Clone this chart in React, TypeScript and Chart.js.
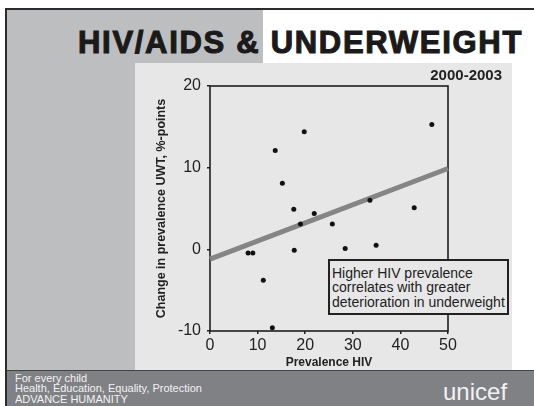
import React, { useEffect, useRef } from "react";
import { Chart, registerables } from "chart.js";

Chart.register(...registerables);

// ---- data ----
const hivPrevalence = [8.0, 9.0, 11.2, 13.1, 13.7, 15.2, 17.6, 17.7, 19.0, 19.8, 21.9, 25.7, 28.4, 33.6, 34.9, 42.9, 46.6];
const uwtChange = [-0.45, -0.45, -3.8, -9.6, 12.1, 8.1, 4.9, -0.1, 3.1, 14.4, 4.4, 3.1, 0.1, 6.0, 0.5, 5.1, 15.3];
const trendX = [0, 50];
const trendY = [-1.2, 9.9];
const xTicks = [0, 10, 20, 30, 40, 50];
const yTicks = [-10, 0, 10, 20];

const titleText = "HIV/AIDS & UNDERWEIGHT";
const periodText = "2000-2003";
const xTitle = "Prevalence HIV";
const yTitle = "Change in prevalence UWT, %-points";
const noteLines = ["Higher HIV prevalence", "correlates with greater", "deterioration in underweight"];
const footerLines = ["For every child", "Health, Education, Equality, Protection", "ADVANCE HUMANITY"];
const brand = "unicef";

const FONT = "'Liberation Sans', Arial, Helvetica, sans-serif";

const boxPlugin = {
  id: "frameBox",
  beforeDatasetsDraw(chart: any) {
    const { ctx, chartArea } = chart;
    ctx.save();
    ctx.strokeStyle = "#1e1e1e";
    ctx.lineWidth = 1.6;
    ctx.strokeRect(chartArea.left, chartArea.top, chartArea.right - chartArea.left, chartArea.bottom - chartArea.top);
    ctx.restore();
  },
};

function ScatterChart() {
  const ref = useRef<HTMLCanvasElement>(null);
  useEffect(() => {
    if (!ref.current) return;
    const chart = new Chart(ref.current, {
      type: "scatter",
      data: {
        datasets: [
          {
            type: "scatter",
            data: hivPrevalence.map((x, i) => ({ x, y: uwtChange[i] })),
            backgroundColor: "#111",
            borderColor: "#111",
            pointRadius: 2.5,
            pointBorderWidth: 0,
          },
          {
            type: "line",
            data: trendX.map((x, i) => ({ x, y: trendY[i] })),
            borderColor: "#858585",
            borderWidth: 5,
            pointRadius: 0,
            fill: false,
            clip: 4,
          } as any,
        ],
      },
      options: {
        responsive: false,
        animation: false,
        events: [],
        layout: { padding: { left: 0, top: 23, right: 64, bottom: 0 } },
        plugins: { legend: { display: false }, tooltip: { enabled: false } },
        scales: {
          x: {
            type: "linear",
            min: 0,
            max: 50,
            afterFit: (s: any) => { s.height = 39; },
            afterBuildTicks: (s: any) => { s.ticks = xTicks.map((v) => ({ value: v })); },
            ticks: { color: "#222", font: { family: FONT, size: 16 }, padding: 2 },
            grid: { drawOnChartArea: false, drawTicks: true, tickLength: 3, tickColor: "#222", lineWidth: 1.5 },
            border: { display: false },
            title: { display: true, text: xTitle, color: "#222", font: { family: FONT, size: 12, weight: "bold" }, padding: { top: 0, bottom: 0 } },
          },
          y: {
            type: "linear",
            min: -10,
            max: 20,
            afterFit: (s: any) => { s.width = 75; },
            afterBuildTicks: (s: any) => { s.ticks = yTicks.map((v) => ({ value: v })); },
            ticks: { color: "#222", font: { family: FONT, size: 16 }, padding: 6 },
            grid: { drawOnChartArea: false, drawTicks: true, tickLength: 3, tickColor: "#222", lineWidth: 1.5 },
            border: { display: false },
            title: { display: true, text: yTitle, color: "#222", font: { family: FONT, size: 12.5, weight: "bold" }, padding: { top: 19.5, bottom: 0 } },
          },
        },
      } as any,
      plugins: [boxPlugin],
    });
    return () => chart.destroy();
  }, []);
  return (
    <canvas
      ref={ref}
      width={377}
      height={307}
      style={{ position: "absolute", left: 135, top: 63, width: 377, height: 307 }}
    />
  );
}

export default function App() {
  const abs = (s: React.CSSProperties): React.CSSProperties => ({ position: "absolute", ...s });
  return (
    <div style={{ position: "absolute", left: 0, top: 0, width: 534, height: 406, overflow: "hidden", background: "#fff", fontFamily: FONT }}>
      <div style={abs({ left: 7, top: 10, width: 256, height: 53, background: "#bdbec0" })} />
      <div style={abs({ left: 7, top: 63, width: 128, height: 307, background: "#bdbec0" })} />
      <div style={abs({ left: 135, top: 63, width: 377, height: 307, background: "#e6e7e6" })} />
      <div style={abs({ left: 7, top: 370, width: 527, height: 36, background: "#808185", borderTop: "1px solid #444", boxSizing: "border-box" })} />
      <div style={abs({ left: 5, top: 8, width: 529, height: 2, background: "#2b2b2b" })} />
      <div style={abs({ left: 5, top: 8, width: 2, height: 398, background: "#2b2b2b" })} />

      <div style={{ ...abs({ left: 78, top: 26.7, fontSize: 31, lineHeight: "31px", fontWeight: "bold", letterSpacing: "1.7px", color: "#1a1a1a", whiteSpace: "nowrap" }), WebkitTextStroke: "1.1px #1a1a1a" } as any}>
        {titleText}
      </div>

      <ScatterChart />

      <div style={abs({ right: 32, top: 67, fontSize: 15, lineHeight: "15px", fontWeight: "bold", color: "#222", whiteSpace: "nowrap" })}>
        {periodText}
      </div>

      <div style={abs({ left: 328, top: 259, width: 181, height: 56, boxSizing: "border-box", border: "2px solid #222", background: "#e6e7e6", paddingLeft: 2, paddingTop: 4.5, fontSize: 14, lineHeight: "14.5px", color: "#222", whiteSpace: "nowrap" })}>
        {noteLines.map((l, i) => (
          <div key={i}>{l}</div>
        ))}
      </div>

      <div style={abs({ left: 15, top: 372.5, fontSize: 11, lineHeight: "10.8px", color: "#f2f2f2", whiteSpace: "nowrap" })}>
        {footerLines.map((l, i) => (
          <div key={i}>{l}</div>
        ))}
      </div>
      <div style={abs({ left: 443, top: 379.7, fontSize: 24, lineHeight: "24px", color: "#f2f2f2", whiteSpace: "nowrap" })}>
        {brand}
      </div>
    </div>
  );
}
